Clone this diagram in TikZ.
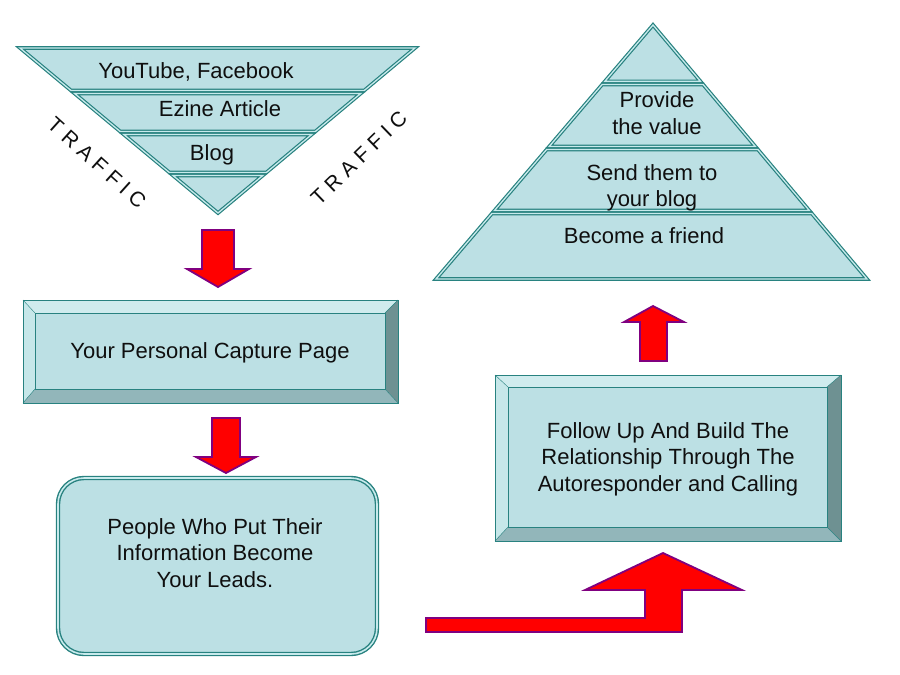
\documentclass[tikz,border=0pt]{standalone}
\usepackage{fontspec}
\setmainfont{Liberation Sans}
\usetikzlibrary{calc}
\definecolor{tfill}{RGB}{188,224,228}
\definecolor{tline}{RGB}{40,130,128}
\definecolor{tdouble}{RGB}{200,234,236}
\definecolor{bevtop}{RGB}{208,236,238}
\definecolor{bevleft}{RGB}{198,231,233}
\definecolor{bevright}{RGB}{110,145,146}
\definecolor{bevbot}{RGB}{146,182,186}
\definecolor{arrred}{RGB}{255,0,0}
\definecolor{arrpurple}{RGB}{128,0,128}
\definecolor{txt}{RGB}{15,15,15}
\tikzset{
  band/.style={fill=tfill, draw=tline, double=tdouble, line width=1.2pt, double distance=1.3pt},
  blockarrow/.style={fill=arrred, draw=arrpurple, line width=1.8pt, line join=miter},
  txtlbl/.style={text=txt, font=\fontsize{22}{26.5}\selectfont, align=center, inner sep=0pt},
  trafficlbl/.style={text=txt, font=\fontsize{21}{25}\selectfont\addfontfeature{LetterSpace=28}, inner sep=0pt},
  bevedge/.style={draw=tline, line width=0.7pt},
}
\begin{document}
\begin{tikzpicture}[x=1pt,y=-1pt]
\fill[white] (0,0) rectangle (900,675);
\useasboundingbox (0,0) rectangle (900,675);

% ---------- funnel ----------
\coordinate (FL) at (20,48);
\coordinate (FR) at (415,48);
\coordinate (FV) at (218,213);
\foreach \a/\b in {0/0.258, 0.276/0.506, 0.524/0.755} {
  \filldraw[band] ($(FL)!\a!(FV)$) -- ($(FR)!\a!(FV)$) -- ($(FR)!\b!(FV)$) -- ($(FL)!\b!(FV)$) -- cycle;
}
\filldraw[band] ($(FL)!0.773!(FV)$) -- ($(FR)!0.773!(FV)$) -- (FV) -- cycle;

\node[txtlbl, anchor=base] (yt) at (196,78) {YouTube, Facebook};
\node[txtlbl, anchor=base] (ez) at (220,116) {Ezine Article};
\node[txtlbl, anchor=base] (bl) at (212,160) {Blog};

\node[trafficlbl, rotate=-42] (trl) at (97,163) {TRAFFIC};
\node[trafficlbl, rotate=44] (trr) at (359,158) {TRAFFIC};

% ---------- pyramid ----------
\coordinate (PA) at (653,25);
\coordinate (PL) at (436,279);
\coordinate (PR) at (867,279);
\filldraw[band] (PA) -- ($(PA)!0.222!(PR)$) -- ($(PA)!0.222!(PL)$) -- cycle;
\foreach \a/\b in {0.234/0.478, 0.490/0.730, 0.742/1} {
  \filldraw[band] ($(PA)!\a!(PL)$) -- ($(PA)!\a!(PR)$) -- ($(PA)!\b!(PR)$) -- ($(PA)!\b!(PL)$) -- cycle;
}
\node[txtlbl] (pv) at (657,113) {Provide\\the value};
\node[txtlbl] (sb) at (652,188) {Send them to\\your blog};
\node[txtlbl, anchor=base] (bf) at (644,243) {Become a friend};

% ---------- capture page (bevel box) ----------
\fill[bevtop]   (23,300) -- (398,300) -- (385,313) -- (35,313) -- cycle;
\fill[bevleft]  (23,300) -- (35,313) -- (35,389) -- (23,403) -- cycle;
\fill[bevright] (398,300) -- (398,403) -- (385,389) -- (385,313) -- cycle;
\fill[bevbot]   (23,403) -- (398,403) -- (385,389) -- (35,389) -- cycle;
\filldraw[fill=tfill, bevedge] (35,313) rectangle (385,389);
\draw[bevedge] (23,300) rectangle (398,403);
\draw[bevedge, line width=0.4pt] (23,300) -- (35,313) (398,300) -- (385,313) (23,403) -- (35,389) (398,403) -- (385,389);
\node[txtlbl, anchor=base] (cap) at (210,358) {Your Personal Capture Page};

% ---------- leads (rounded box) ----------
\filldraw[fill=tfill, draw=tline, double=tdouble, line width=1.4pt, double distance=1.6pt, rounded corners=26pt] (58,478) rectangle (377,654);
\node[txtlbl] (lead) at (215,553) {People Who Put Their\\Information Become\\Your Leads.};

% ---------- follow up (bevel box) ----------
\fill[bevtop]   (495,375) -- (841,375) -- (827,387) -- (508,387) -- cycle;
\fill[bevleft]  (495,375) -- (508,387) -- (508,527) -- (495,541) -- cycle;
\fill[bevright] (841,375) -- (841,541) -- (827,527) -- (827,387) -- cycle;
\fill[bevbot]   (495,541) -- (841,541) -- (827,527) -- (508,527) -- cycle;
\filldraw[fill=tfill, bevedge] (508,387) rectangle (827,527);
\draw[bevedge] (495,375) rectangle (841,541);
\draw[bevedge, line width=0.4pt] (495,375) -- (508,387) (841,375) -- (827,387) (495,541) -- (508,527) (841,541) -- (827,527);
\node[txtlbl] (fol) at (668,459) {Follow Up And Build The\\Relationship Through The\\Autoresponder and Calling};

% ---------- block arrows ----------
\filldraw[blockarrow] (202,230) -- (234,230) -- (234,269) -- (249,269) -- (218,287) -- (187,269) -- (202,269) -- cycle;
\filldraw[blockarrow] (212,418) -- (240,418) -- (240,457) -- (256,457) -- (226,473) -- (196,457) -- (212,457) -- cycle;
\filldraw[blockarrow] (640,361) -- (667,361) -- (667,322) -- (684,322) -- (653,306) -- (624,322) -- (640,322) -- cycle;
\filldraw[blockarrow] (426,618) -- (645,618) -- (645,590) -- (585,590) -- (663,553) -- (742,590) -- (682,590) -- (682,632) -- (426,632) -- cycle;
\end{tikzpicture}
\end{document}
